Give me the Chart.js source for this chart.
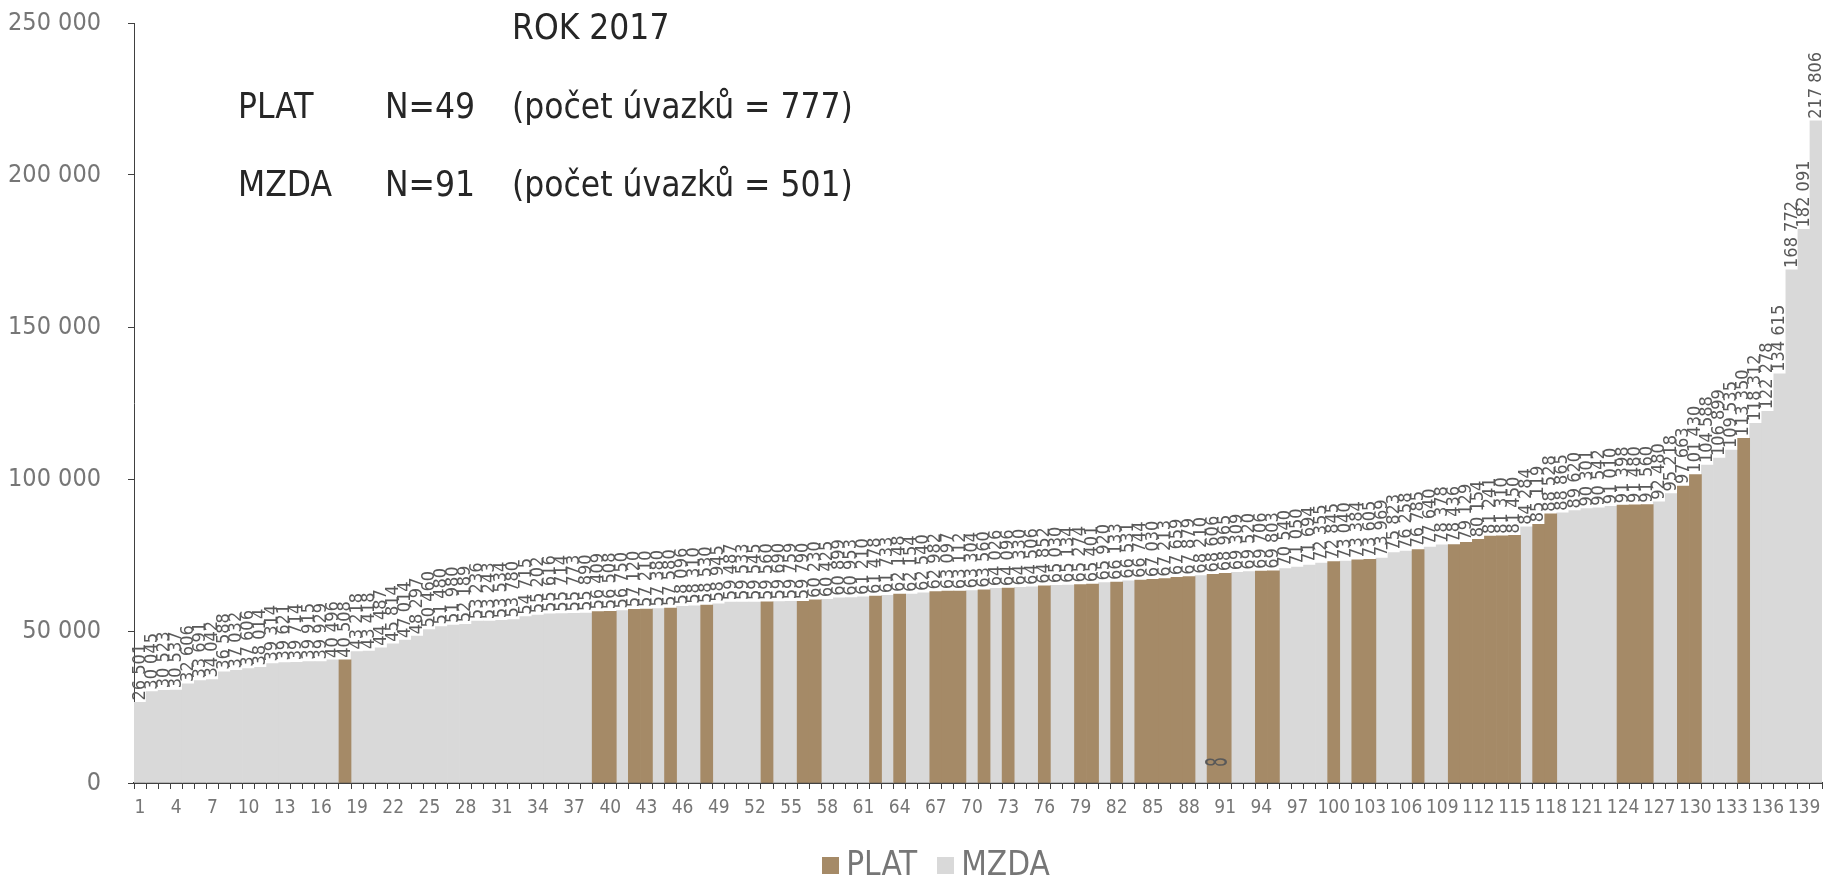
<!DOCTYPE html>
<html>
<head>
<meta charset="utf-8">
<script src="https://cdn.jsdelivr.net/npm/chart.js@4.4.1/dist/chart.umd.min.js"></script>
<style>
    html, body { margin: 0; padding: 0; background: #fff; }
    .chart-container {
        position: relative;
        width: 1824px;
        height: 876px;
        font-family: "Liberation Sans Narrow", "DejaVu Sans Condensed", "Liberation Sans", sans-serif;
    }
    .title-text {
        position: absolute;
        font-size: 35px;
        color: #262626;
        white-space: nowrap;
        line-height: 1;
        transform: translateY(-50%);
    }
    .custom-legend {
        position: absolute;
        left: 0;
        right: 0;
        top: 847px;
        display: flex;
        justify-content: center;
        padding-left: 48px;
    }
    .custom-legend ul { list-style: none; margin: 0; padding: 0; display: flex; gap: 20px; }
    .custom-legend li { display: flex; align-items: center; gap: 7px; font-size: 33px; color: #767676; line-height: 1; }
    .custom-legend li span { display: inline-block; width: 17px; height: 17px; margin-top: 4px; }
</style>
</head>
<body>
<div class="chart-container">
    <canvas id="salaryChart" width="1824" height="876"></canvas>
    <div class="title-text" style="left:512px; top:27px;">ROK 2017</div>
    <div class="title-text" style="left:238px; top:106px;">PLAT</div>
    <div class="title-text" style="left:385px; top:106px;">N=49</div>
    <div class="title-text" style="left:512px; top:106px;">(počet úvazků = 777)</div>
    <div class="title-text" style="left:238px; top:184px;">MZDA</div>
    <div class="title-text" style="left:385px; top:184px;">N=91</div>
    <div class="title-text" style="left:512px; top:184px;">(počet úvazků = 501)</div>
    <div class="custom-legend" id="legend"></div>
</div>
<script>
// values of all 140 workplaces, sorted ascending
const salaryValues = [
    26501, 30045, 30523, 30537, 32606, 33691, 34042, 36588, 37032, 37606,
    38014, 39314, 39621, 39714, 39915, 39929, 40496, 40508, 43218, 43418,
    44487, 45814, 47014, 48297, 50460, 51480, 51980, 52189, 53236, 53243,
    53534, 53780, 54715, 55202, 55616, 55714, 55773, 55890, 56409, 56508,
    56750, 57120, 57210, 57380, 57580, 58096, 58310, 58530, 58945, 59487,
    59533, 59545, 59560, 59690, 59759, 59790, 60230, 60425, 60899, 60953,
    61210, 61478, 61733, 62148, 62154, 62540, 62982, 63097, 63112, 63304,
    63560, 64026, 64096, 64330, 64506, 64852, 65030, 65134, 65274, 65401,
    65920, 66133, 66531, 66744, 67030, 67213, 67659, 67879, 68210, 68606,
    68965, 69309, 69520, 69706, 69803, 70540, 71050, 71694, 72355, 72845,
    73040, 73384, 73605, 73969, 75823, 76258, 76785, 77640, 78378, 78436,
    79129, 80154, 81241, 81310, 81450, 84284, 85119, 88528, 88865, 89620,
    90301, 90542, 91010, 91398, 91480, 91560, 92480, 95218, 97663, 101430,
    104588, 106899, 109535, 113350, 118312, 122278, 134615, 168772, 182091, 217806,
];

// positions (1-based) that belong to PLAT, all others are MZDA
const platPositions = [
    18, 39, 40, 42, 43, 45, 48, 53, 56, 57, 62, 64, 67, 68, 69, 71, 73, 76,
    79, 80, 82, 84, 85, 86, 87, 88, 90, 91, 94, 95, 100, 102, 103, 107,
    110, 111, 112, 113, 114, 115, 117, 118, 124, 125, 126, 129, 130, 134,
];

const categories = salaryValues.map((v, i) => String(i + 1));
const yTicks = [0, 50000, 100000, 150000, 200000, 250000];

const FONT = '"Liberation Sans Narrow", "DejaVu Sans Condensed", "Liberation Sans", sans-serif';
const colors = { plat: "#A58A67", mzda: "#D9D9D9" };

const formatNumber = (v) => String(Math.round(v)).replace(/\B(?=(\d{3})+(?!\d))/g, " ");

const platData = salaryValues.map((v, i) => (platPositions.includes(i + 1) ? v : null));
const mzdaData = salaryValues.map((v, i) => (platPositions.includes(i + 1) ? null : v));

// value labels rotated on top of each bar
const barLabelsPlugin = {
    id: "barLabels",
    afterDatasetsDraw(chart) {
        const { ctx } = chart;
        ctx.save();
        ctx.font = `18px ${FONT}`;
        ctx.fillStyle = "#595959";
        ctx.textAlign = "left";
        ctx.textBaseline = "middle";
        chart.data.datasets.forEach((ds, di) => {
            const meta = chart.getDatasetMeta(di);
            meta.data.forEach((bar, i) => {
                if (ds.data[i] == null) return;
                ctx.save();
                ctx.translate(bar.x, bar.y - 2);
                ctx.rotate(-Math.PI / 2);
                ctx.fillText(formatNumber(ds.data[i]), 0, 0);
                ctx.restore();
            });
        });
        // stray "8" label sitting between bars 90 and 91
        const xs = chart.scales.x;
        const ys = chart.scales.y;
        const x = (xs.getPixelForValue(89) + xs.getPixelForValue(90)) / 2;
        ctx.translate(x, ys.getPixelForValue(6900));
        ctx.scale(1, 0.55);
        ctx.rotate(-Math.PI / 2);
        ctx.font = `30px ${FONT}`;
        ctx.textAlign = "center";
        ctx.fillText("8", 0, 0);
        ctx.restore();
    },
};

const buildLegend = () => {
    const ul = document.createElement("ul");
    [["PLAT", colors.plat], ["MZDA", colors.mzda]].forEach(([text, color]) => {
        const li = document.createElement("li");
        const box = document.createElement("span");
        box.style.backgroundColor = color;
        const label = document.createElement("div");
        label.textContent = text;
        li.appendChild(box);
        li.appendChild(label);
        ul.appendChild(li);
    });
    document.getElementById("legend").appendChild(ul);
};

Chart.defaults.font.family = FONT;
Chart.defaults.color = "#767676";

const ctx = document.getElementById("salaryChart").getContext("2d");
new Chart(ctx, {
    type: "bar",
    data: {
        labels: categories,
        datasets: [
            { label: "PLAT", data: platData, backgroundColor: colors.plat, barPercentage: 1, categoryPercentage: 1 },
            { label: "MZDA", data: mzdaData, backgroundColor: colors.mzda, barPercentage: 1, categoryPercentage: 1 },
        ],
    },
    options: {
        responsive: false,
        animation: false,
        layout: { padding: 0 },
        plugins: {
            legend: { display: false },
            tooltip: { enabled: false },
        },
        scales: {
            x: {
                stacked: true,
                grid: { display: true, drawOnChartArea: false, drawTicks: true, tickLength: 6, color: "#404040", tickColor: "#404040" },
                border: { display: true, color: "#404040", width: 2 },
                ticks: {
                    autoSkip: false,
                    maxRotation: 0,
                    padding: 8,
                    font: { size: 19 },
                    color: "#767676",
                    callback(value, index) {
                        return index % 3 === 0 ? this.getLabelForValue(value) : "";
                    },
                },
                afterFit(scale) { scale.height = 93; },
            },
            y: {
                stacked: true,
                min: 0,
                max: 250000,
                afterBuildTicks(scale) { scale.ticks = yTicks.map((v) => ({ value: v })); },
                grid: { display: true, drawOnChartArea: false, drawTicks: true, tickLength: 6, color: "#404040", tickColor: "#404040" },
                border: { display: true, color: "#404040", width: 1 },
                ticks: {
                    padding: 27,
                    font: { size: 25 },
                    color: "#767676",
                    callback: (v) => formatNumber(v),
                },
                afterFit(scale) {
                    scale.width = 134;
                    // tick padding would otherwise push the plot top down
                    scale.paddingTop = 23;
                    scale.paddingBottom = 0;
                },
            },
        },
    },
    plugins: [barLabelsPlugin],
});

buildLegend();
</script>
</body>
</html>
